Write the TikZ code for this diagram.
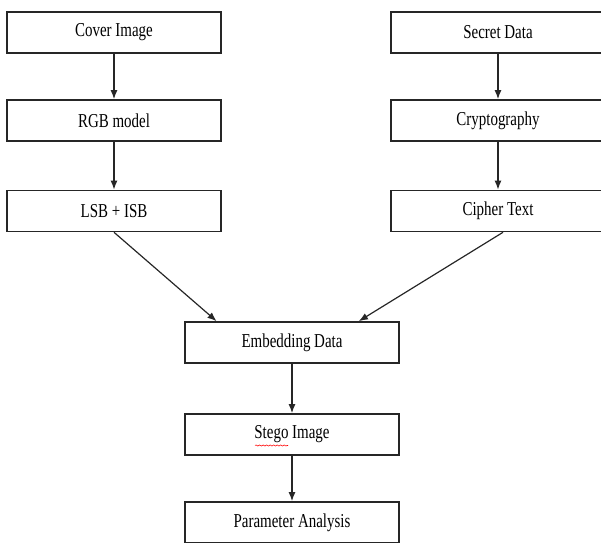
\documentclass[tikz,border=0pt]{standalone}
\usepackage{fontspec}
\setmainfont{Liberation Serif}[FakeStretch=0.76]
\usetikzlibrary{math, calc, arrows.meta, decorations.pathmorphing}

\begin{document}
\begin{tikzpicture}[x=0.025cm, y=-0.025cm,
    stage/.style={draw=black!85, line width=1pt, minimum width=5.35cm, minimum height=1.03cm,
        inner sep=0pt, font=\fontsize{14}{16}\selectfont},
    flow/.style={draw=black!85, line width=0.85pt, -{Latex[length=6.5pt, width=5pt]}}]
    \tikzmath{
        \colleft=114;
        \colright=498;
        \colmid=292;
        \rowa=32.5;
        \rowb=120.5;
        \rowc=211;
        \rowd=342.5;
        \rowe=434.5;
        \rowf=522.5;
    }
    \useasboundingbox (0, 0) rectangle (601, 543);

    % left column
    \node [stage] (cover) at (\colleft, \rowa) {Cover Image};
    \node [stage] (rgb) at (\colleft, \rowb) {RGB model};
    \node [stage] (lsb) at (\colleft, \rowc) {LSB + ISB};
    \draw [flow] (cover) -- (rgb);
    \draw [flow] (rgb) -- (lsb);

    % right column
    \node [stage] (secret) at (\colright, \rowa) {Secret Data};
    \node [stage] (crypto) at (\colright, \rowb) {Cryptography};
    \node [stage] (cipher) at (\colright, \rowc) {Cipher Text};
    \draw [flow] (secret) -- (crypto);
    \draw [flow] (crypto) -- (cipher);

    % merge and output
    \node [stage] (embed) at (\colmid, \rowd) {Embedding Data};
    \node [stage] (stego) at (\colmid, \rowe) {Stego Image};
    \node [stage] (param) at (\colmid, \rowf) {Parameter Analysis};
    \draw [flow] (lsb.south) -- ($ (embed.north west)!0.15!(embed.north east) $);
    \draw [flow] ($ (cipher.south) + (5, 0) $) -- ($ (embed.north west)!0.81!(embed.north east) $);
    \draw [flow] (embed) -- (stego);
    \draw [flow] (stego) -- (param);

    % spell-check mark
    \draw [red, line width=0.4pt, decorate, decoration={snake, amplitude=0.4pt, segment length=2.5pt}]
    ($ (stego.center) + (-37, 11) $) -- ($ (stego.center) + (-4, 11) $);
\end{tikzpicture}
\end{document}
